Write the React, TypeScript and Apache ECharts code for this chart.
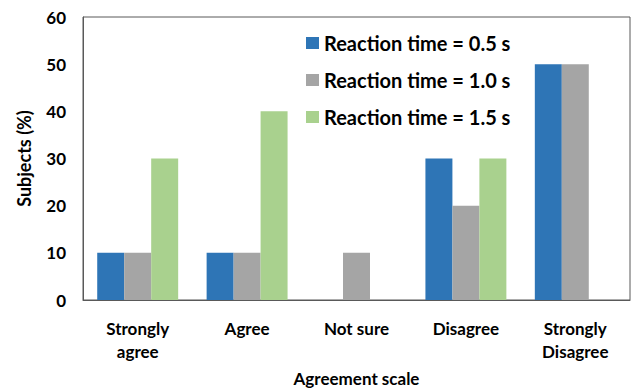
import React, { useEffect, useRef } from "react";
import * as echarts from "echarts";

const categories = ["Strongly\nagree", "Agree", "Not sure", "Disagree", "Strongly\nDisagree"];
const seriesNames = ["Reaction time = 0.5 s", "Reaction time = 1.0 s", "Reaction time = 1.5 s"];
const rt05 = [10, 10, 0, 30, 50];
const rt10 = [10, 10, 10, 20, 50];
const rt15 = [30, 40, 0, 30, 0];
const colors = ["#2E75B6", "#A5A5A5", "#A9D18E"];

const FONT = "Lato, 'Open Sans', sans-serif";

export default function App() {
  const ref = useRef<HTMLDivElement>(null);
  useEffect(() => {
    document.body.style.margin = "0";
    if (!ref.current) return;
    const chart = echarts.init(ref.current, null, { renderer: "svg" });
    const data = [rt05, rt10, rt15];
    chart.setOption({
      animation: false,
      textStyle: { fontFamily: FONT },
      grid: {
        left: 83,
        right: 5,
        top: 17,
        bottom: 88,
        show: true,
        borderColor: "#595959",
        borderWidth: 1,
      },
      legend: {
        orient: "vertical",
        left: 301,
        top: 28,
        itemWidth: 13,
        itemHeight: 12,
        itemGap: 17,
        icon: "rect",
        textStyle: { fontFamily: FONT, fontWeight: "bold", fontSize: 20, color: "#000" },
        data: seriesNames,
      },
      xAxis: {
        type: "category",
        data: categories,
        axisLine: { show: true, lineStyle: { color: "#595959" } },
        axisTick: { show: false },
        axisLabel: {
          fontFamily: FONT,
          fontWeight: "bold",
          fontSize: 17,
          color: "#000",
          margin: 17,
          lineHeight: 23,
        },
        name: "Agreement scale",
        nameLocation: "middle",
        nameGap: 70,
        nameTextStyle: { fontFamily: FONT, fontWeight: "bold", fontSize: 17, color: "#000" },
      },
      yAxis: {
        type: "value",
        min: 0,
        max: 60,
        interval: 10,
        splitLine: { show: false },
        axisLine: { show: true, lineStyle: { color: "#595959" } },
        axisTick: { show: false },
        axisLabel: {
          fontFamily: FONT,
          fontWeight: "bold",
          fontSize: 17,
          color: "#000",
          margin: 17,
        },
        name: "Subjects (%)",
        nameLocation: "middle",
        nameGap: 50,
        nameTextStyle: { fontFamily: FONT, fontWeight: "bold", fontSize: 18, color: "#000" },
      },
      series: seriesNames.map((name, i) => ({
        name,
        type: "bar",
        data: data[i],
        barGap: "0%",
        barCategoryGap: "26%",
        itemStyle: { color: colors[i] },
      })),
    });
    return () => chart.dispose();
  }, []);
  return <div ref={ref} style={{ width: 635, height: 392 }} />;
}
